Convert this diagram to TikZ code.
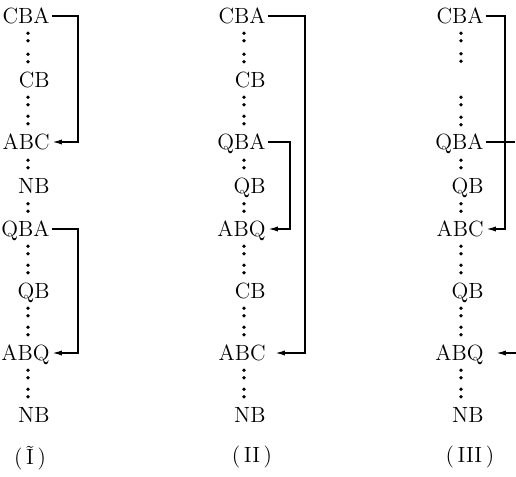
\documentclass[tikz,border=0pt]{standalone}
\usetikzlibrary{arrows.meta}
\begin{document}
\begin{tikzpicture}[x=0.5pt,y=-0.5pt,
  lbl/.style={anchor=east,inner sep=1pt,text height=7.2pt,text depth=0pt,
              font=\fontsize{11}{13}\selectfont},
  caption/.style={inner sep=0pt,font=\fontsize{11}{13}\selectfont},
  link/.style={line width=0.8pt},
  arr/.style={line width=0.8pt,-{Latex[length=5pt,width=2.6pt]}}]
\useasboundingbox (0,0) rectangle (516,477);

% two stacked dots (a vertical colon) centred at (x,y)
\newcommand\vcolon[2]{\fill (#1,#2-3.7) circle (0.95pt); \fill (#1,#2+3.7) circle (0.95pt);}

% ---------- column (I) ----------
\node[lbl] (cba1) at (52,16)  {CBA};
\node[lbl] (cb1)  at (52,80)  {CB};
\node[lbl] (abc1) at (52,142) {ABC};
\node[lbl] (nb1)  at (52,186) {NB};
\node[lbl] (qba1) at (52,229) {QBA};
\node[lbl] (qb1)  at (52,291) {QB};
\node[lbl] (abq1) at (52,353) {ABQ};
\node[lbl] (nbb1) at (52,415) {NB};
\node[caption] (capI) at (30,458) {(\,\~{I}\,)};
\foreach \y in {37,58,101,120,164,207.5,250,269,312,331,374,393} {\vcolon{28}{\y}}
\draw[arr] (cba1.east) -- ++(26,0) |- (abc1.east);
\draw[arr] (qba1.east) -- ++(26,0) |- (abq1.east);

% ---------- column (II) ----------
\node[lbl] (cba2) at (268,16)  {CBA};
\node[lbl] (cb2)  at (268,80)  {CB};
\node[lbl] (qba2) at (268,142) {QBA};
\node[lbl] (qb2)  at (268,186) {QB};
\node[lbl] (abq2) at (268,229) {ABQ};
\node[lbl] (cbb2) at (268,291) {CB};
\node[lbl] (abc2) at (268,353) {ABC};
\node[lbl] (nb2)  at (268,415) {NB};
\node[caption] (capII) at (252,457) {(\,II\,)};
\foreach \y in {37,58,101,120,164,207.5,250,269,312,331,374,393} {\vcolon{244}{\y}}
\draw[arr] (cba2.east) -- ++(37,0) |- ([xshift=3.5pt]abc2.east);
\draw[arr] (qba2.east) -- ++(22,0) |- (abq2.east);

% ---------- column (III) ----------
\node[lbl] (cba3) at (486,16)  {CBA};
\node[lbl] (qba3) at (486,142) {QBA};
\node[lbl] (qb3)  at (486,186) {QB};
\node[lbl] (abc3) at (486,229) {ABC};
\node[lbl] (qbb3) at (486,291) {QB};
\node[lbl] (abq3) at (486,353) {ABQ};
\node[lbl] (nb3)  at (486,415) {NB};
\node[caption] (capIII) at (470,457) {(\,III\,)};
\foreach \y in {37,57.5,101,121,164,207.5,250,269,312,331,374,393} {\vcolon{461}{\y}}
\coordinate (qend)   at (515,142);
\coordinate (abqsrc) at (516,353);
\draw[arr]  (cba3.east) -- ++(19,0) |- (abc3.east);
\draw[link] (qba3.east) -- (qend);
\draw[arr]  (abqsrc) -- ([xshift=5pt]abq3.east);
\end{tikzpicture}
\end{document}
